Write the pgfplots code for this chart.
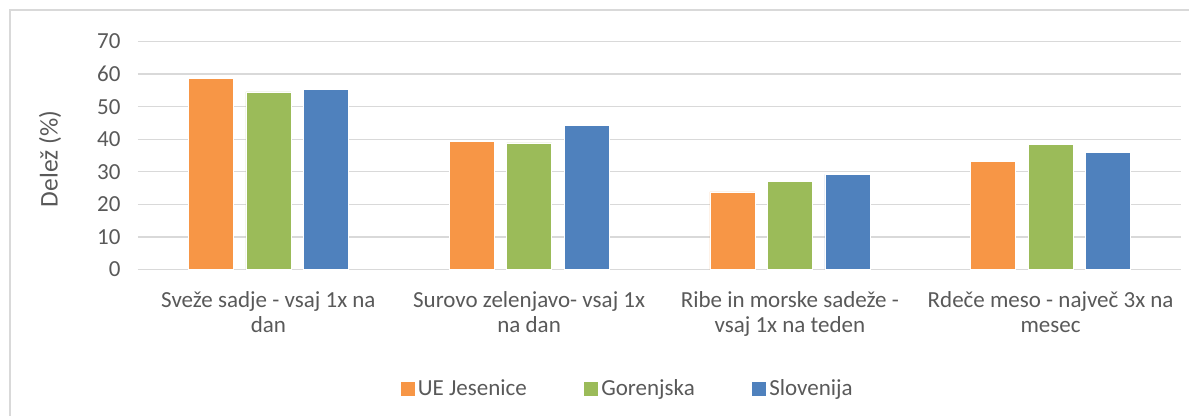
\documentclass[border=0pt]{standalone}
\usepackage{fontspec}
\setmainfont{Carlito}
\usepackage{pgfplots}
\pgfplotsset{compat=1.18}
\definecolor{cOrange}{HTML}{F79646}
\definecolor{cGreen}{HTML}{9BBB59}
\definecolor{cBlue}{HTML}{4F81BD}
\definecolor{txtgray}{HTML}{595959}
\definecolor{gridgray}{HTML}{D9D9D9}
\newcommand{\lbl}{\fontsize{23bp}{25bp}\selectfont}
\newcommand{\ylbl}{\fontsize{25.5bp}{28bp}\selectfont}
\begin{document}
\begin{tikzpicture}
\begin{axis}[
  name=ax,
  at={(0,0)}, anchor=south west,
  scale only axis,
  width=1043bp, height=228bp,
  xmin=-0.5, xmax=3.5, ymin=0, ymax=70,
  ytick={0,10,...,70},
  xtick={0,1,2,3},
  xticklabels={{Sveže sadje - vsaj 1x na\\dan},{Surovo zelenjavo- vsaj 1x\\na dan},{Ribe in morske sadeže -\\vsaj 1x na teden},{Rdeče meso - največ 3x na\\mesec}},
  xticklabel style={align=center, font=\lbl, text=txtgray, yshift=-19bp},
  yticklabel style={font=\lbl, text=txtgray, xshift=-14bp},
  /pgf/number format/assume math mode=true,
  major tick length=0pt,
  axis line style={draw=none},
  ymajorgrids, grid style={gridgray, line width=1.2bp},
  ybar=12.5bp, bar width=45bp,
  ylabel={\ylbl Delež (\%)},
  every axis y label/.style={at={(axis description cs:-0.0844,0.4846)}, rotate=90, anchor=center, text=txtgray},
  legend columns=3,
  legend style={draw=none, fill=none, at={(axis description cs:0.4703,-0.522)}, anchor=center, font=\lbl, text=txtgray,
    /tikz/every even column/.append style={column sep=54bp}, nodes={inner sep=3.5bp}},
  legend cell align=left,
]
\addplot[fill=cOrange, draw=white, line width=0.5bp, legend image code/.code={\fill[cOrange] (0bp,-6.5bp) rectangle (13bp,6.5bp);}] coordinates {(0,58.6) (1,39.4) (2,23.8) (3,33.2)};
\addplot[fill=cGreen, draw=white, line width=0.5bp, legend image code/.code={\fill[cGreen] (0bp,-6.5bp) rectangle (13bp,6.5bp);}] coordinates {(0,54.5) (1,38.9) (2,27.0) (3,38.4)};
\addplot[fill=cBlue, draw=white, line width=0.5bp, legend image code/.code={\fill[cBlue] (0bp,-6.5bp) rectangle (13bp,6.5bp);}] coordinates {(0,55.2) (1,44.2) (2,29.2) (3,35.9)};
\legend{UE Jesenice, Gorenjska, Slovenija}
\end{axis}
\draw[gridgray, line width=1.5bp] ([shift={(-128bp,-146.5bp)}]ax.south west) -- ([shift={(-128bp,259.5bp)}]ax.south west) -- ([shift={(1051bp,259.5bp)}]ax.south west);
\pgfresetboundingbox
\path[use as bounding box] ([shift={(-138bp,-146.5bp)}]ax.south west) rectangle ([shift={(1051bp,269.5bp)}]ax.south west);
\end{tikzpicture}
\end{document}
